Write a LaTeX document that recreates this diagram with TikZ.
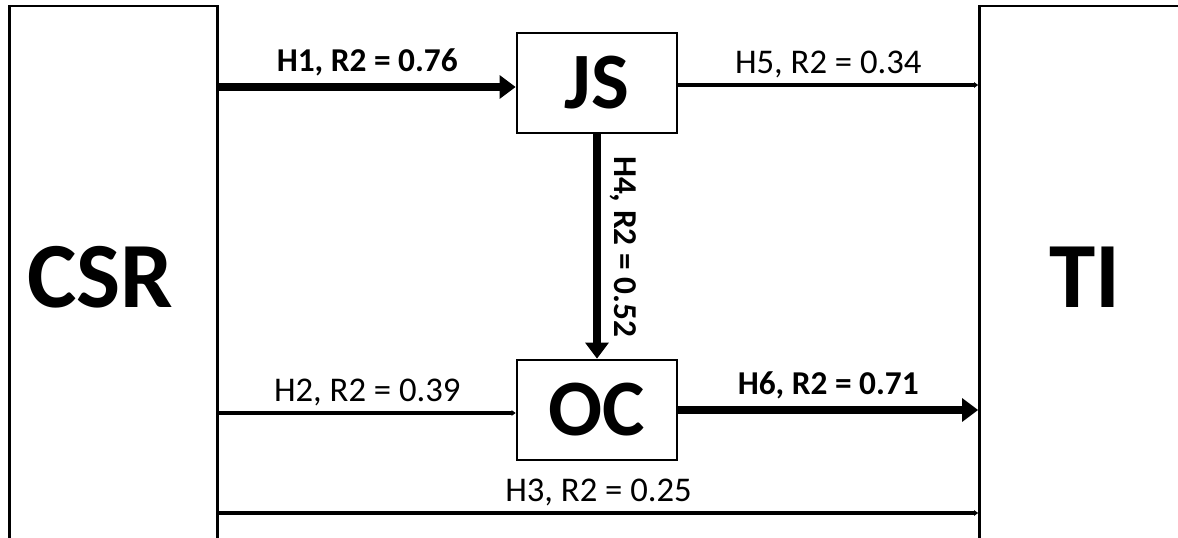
\documentclass[tikz,border=0pt]{standalone}
\usepackage{fontspec}
\setmainfont{Carlito}
\usetikzlibrary{positioning,arrows.meta,calc}

\begin{document}
\begin{tikzpicture}[x=0.75pt, y=-0.75pt,
  box/.style={draw, line width=2pt, inner sep=0pt, font=\fontsize{60}{62}\selectfont\bfseries},
  side/.style={box, minimum width=156pt, minimum height=406.5pt},
  bigtext/.style={font=\fontsize{70}{72}\selectfont\bfseries, inner sep=0pt},
  mid/.style={box, minimum width=120pt, minimum height=75pt},
  weak/.style={-{Triangle[length=3pt, width=4pt]}, line width=2.4pt},
  strong/.style={-{Triangle[length=12pt, width=17pt]}, line width=6pt},
  lab/.style={font=\fontsize{26}{30}\selectfont, inner sep=2pt},
  blab/.style={lab, font=\fontsize{25}{30}\selectfont\bfseries}]
\clip (0,0) rectangle (1178,538);
\node[side] (csr) at (113.5,277) {};
\node[side] (ti) at (1083.5,277) {};
\node[bigtext] (csrtext) at ([xshift=-10pt]csr.center) {CSR};
\node[bigtext] (titext) at ([xshift=1pt]ti.center) {TI};
\node[mid] (js) at (597,83) {JS};
\node[mid] (oc) at (597,410) {OC};
\coordinate (lowrow) at (597,513);
% CSR to the mediators
\draw[strong] (csr.east |- 0,87) -- node[blab, above=3pt] {H1, R2 = 0.76} (js.west |- 0,87);
\draw[weak] (csr.east |- 0,413) -- node[lab, above=2pt] {H2, R2 = 0.39} (oc.west |- 0,413);
% mediators to TI
\draw[weak] (js.east |- 0,85) -- node[lab, above=2pt] {H5, R2 = 0.34} (ti.west |- 0,85);
\draw[strong] (oc.east) -- node[blab, above=3pt] {H6, R2 = 0.71} (ti.west |- oc.east);
\draw[strong] (js.south) -- node[blab, right=5pt, rotate=-90, anchor=south] {H4, R2 = 0.52} (oc.north);
% direct path
\draw[weak] (csr.east |- lowrow) -- node[lab, above=2pt] {H3, R2 = 0.25} (ti.west |- lowrow);
\end{tikzpicture}
\end{document}
